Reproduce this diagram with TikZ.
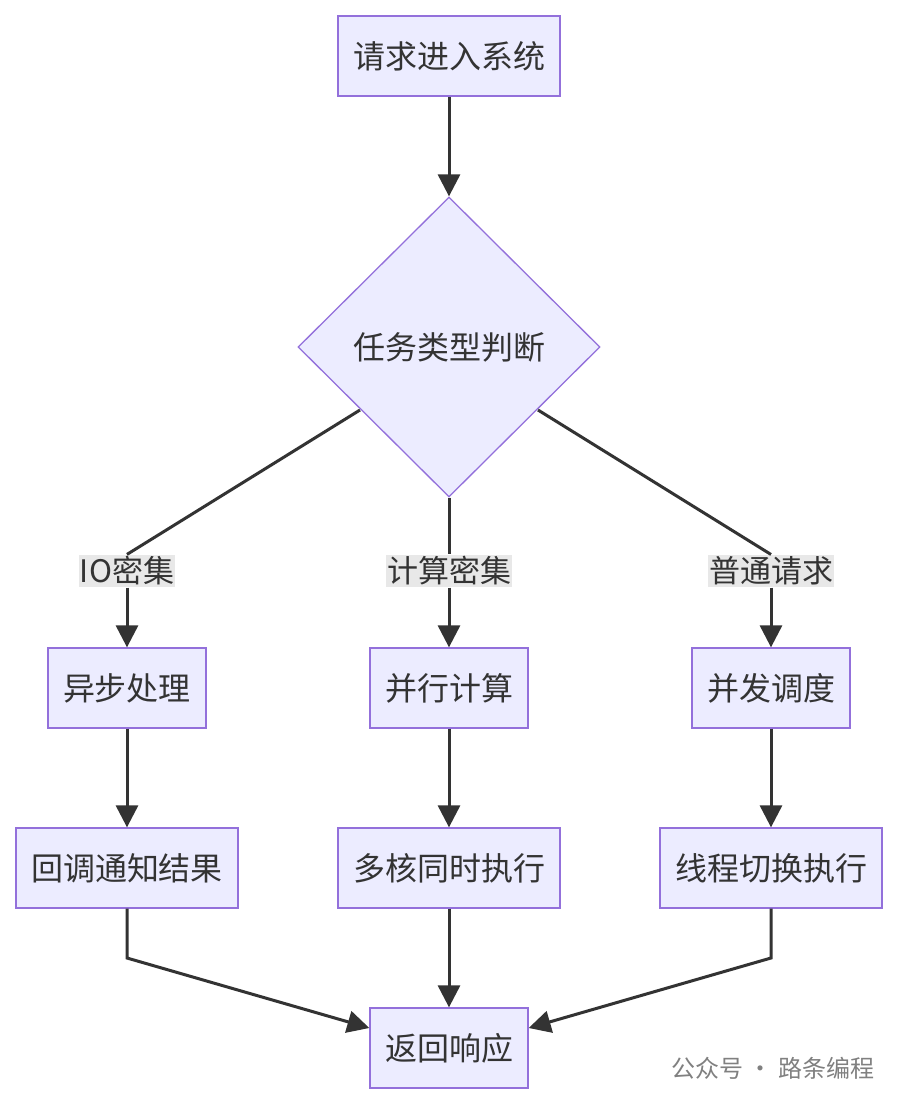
\documentclass[tikz,border=0pt]{standalone}
\usepackage{fontspec}
\newfontfamily\cjk{Noto Sans CJK SC}
\usetikzlibrary{shapes.geometric,arrows.meta}
\definecolor{nfill}{HTML}{ECECFF}
\definecolor{nline}{HTML}{9370DB}
\definecolor{eline}{HTML}{333333}
\definecolor{lbg}{HTML}{E8E8E8}
\begin{document}
\begin{tikzpicture}[x=1pt,y=-1pt,
  box/.style={draw=nline,fill=nfill,line width=1.3pt,minimum height=80pt,inner sep=0pt,font=\cjk\fontsize{32}{34}\selectfont,text=eline},
  lab/.style={fill=lbg,inner xsep=1pt,inner ysep=2pt,font=\cjk\fontsize{31}{33}\selectfont,text=eline},
  e/.style={draw=eline,line width=3pt},
  a/.style={e,-{Triangle[length=22pt,width=22pt]}}]
\useasboundingbox[fill=white] (0,0) rectangle (898,1104);
\node[box,minimum width=222pt] (s) at (449,56) {请求进入系统};
\node[box,diamond,minimum width=302pt,minimum height=300pt,aspect=1] (d) at (449,347) {任务类型判断};
\node[lab] (l1) at (127,571) {IO密集};
\node[lab] (l2) at (449,571) {计算密集};
\node[lab] (l3) at (771,571) {普通请求};
\node[box,minimum width=158pt] (b1) at (127,688) {异步处理};
\node[box,minimum width=158pt] (b2) at (449,688) {并行计算};
\node[box,minimum width=158pt] (b3) at (771,688) {并发调度};
\node[box,minimum width=222pt] (c1) at (127,868) {回调通知结果};
\node[box,minimum width=222pt] (c2) at (449,868) {多核同时执行};
\node[box,minimum width=222pt] (c3) at (771,868) {线程切换执行};
\node[box,minimum width=158pt] (r) at (449,1048) {返回响应};
\coordinate (p1) at (360,410);
\coordinate (p3) at (538,410);
\coordinate (k1) at (127,958);
\coordinate (k3) at (771,958);
\draw[a] (s) -- (d.north);
\draw[e] (p1) -- (l1.north);
\draw[e] (d.south) -- (l2.north);
\draw[e] (p3) -- (l3.north);
\draw[a] (l1) -- (b1);
\draw[a] (l2) -- (b2);
\draw[a] (l3) -- (b3);
\draw[a] (b1) -- (c1);
\draw[a] (b2) -- (c2);
\draw[a] (b3) -- (c3);
\draw[a] (c1.south) -- (k1) -- (r.west|-0,1028);
\draw[a] (c2) -- (r);
\draw[a] (c3.south) -- (k3) -- (r.east|-0,1028);
\node[font=\cjk\fontsize{24}{26}\selectfont,text=gray,anchor=west] (w) at (668,1068) {公众号 · 路条编程};
\end{tikzpicture}
\end{document}
